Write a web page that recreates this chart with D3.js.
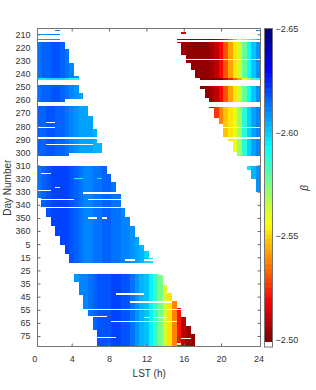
<!DOCTYPE html>
<html><head><meta charset="utf-8">
<script src="https://cdn.jsdelivr.net/npm/d3@7"></script>
<style>
body{margin:0;background:#fff}
svg{display:block}
text{font-family:"Liberation Sans",Arial,Helvetica,sans-serif}
</style>
</head><body>
<svg id="chart" width="316" height="390"></svg>
<script>
// ================= DATA =================
// Days are counted continuously from 1 Jan of the first year (day > 365 = next year).
const lstTicks   = [0, 4, 8, 12, 16, 20, 24];
const dayTicks   = [210,220,230,240,250,260,270,280,290,300,310,320,330,340,350,360,5,15,25,35,45,55,65,75];
const betaTicks  = [-2.65, -2.60, -2.55, -2.50];
const betaRange  = [-2.65, -2.4988];      // jet(64) range; above -> white
const betaBarMax = -2.4964;               // colour-bar end incl. white slot
const lstDomain  = [0.36, 24.24];
const dayDomain  = [205.73, 448.17];
const lstBin     = 0.5;                   // LST bin width (h)

// Observation window edges: [day, LST]
const edgeALeftEnd    = [[206,2.86],[214,2.86],[216,3.2],[243,4.55],[249,4.8],[261,5.2],[265,5.5],[270,5.9],[277,6.2],[284,6.57],[291,6.93],[298,7.2],[302,7.25]];
const edgeARightStart = [[214,15.25],[217,15.6],[222,15.9],[228,16.1],[230,16.35],[237,17.0],[244,17.56],[250,17.9],[258,18.46],[261,18.6],[266,19.0],[273,19.5],[279,20.06],[282,20.3],[288,20.35],[291,20.95],[302,21.67]];
const edgeBLeftStart  = [[311,0],[334,0],[335,0.54],[339,0.8],[349,1.5],[359,2.2],[369,2.9],[379.5,3.64],[384,3.9]];
const edgeBLeftEnd    = [[311,7.5],[315,7.85],[319,8.2],[324,8.64],[336,9.18],[345,9.6],[355,10.43],[364,10.96],[374.5,11.85],[384,12.92]];
const edgeBRightStart = [[311,22.74],[315,23.1],[319,23.4],[324,23.7],[330,24.0]];
const edgeCStart      = [[393,4.2],[400,4.6],[410,5.07],[420,5.5],[427,6.2],[438,6.6],[443,6.93],[448,6.93]];
const edgeCEnd        = [[393,13.46],[401,13.97],[407.5,14.5],[414,15.0],[420,15.6],[426.5,16.1],[433,16.5],[439,17.0],[448,17.56]];

// beta per 0.5 h LST bin
const betaA1  = [-2.613,-2.614,-2.615,-2.616,-2.617,-2.617,-2.616,-2.614,-2.611,-2.609,-2.607];                     // from 0 h
const betaA2  = [-2.614,-2.615,-2.616,-2.617,-2.617,-2.616,-2.615,-2.613,-2.611,-2.608,-2.607,-2.606,-2.606,-2.605,-2.604]; // from 0 h
const betaAR1 = [-2.512,-2.505,-2.502,-2.502,-2.502,-2.502,-2.503,-2.505,-2.510,-2.518,-2.530,-2.542,-2.553,-2.563,-2.578,-2.592,-2.602,-2.609]; // from 15.5 h
const betaAR2 = [-2.515,-2.527,-2.537,-2.547,-2.553,-2.558,-2.570,-2.588,-2.600,-2.606,-2.610];                     // from 19 h
const betaB   = [-2.613,-2.614,-2.616,-2.618,-2.620,-2.621,-2.621,-2.620,-2.618,-2.615,-2.613,-2.612,-2.612,-2.613,
                 -2.614,-2.615,-2.615,-2.614,-2.613,-2.612,-2.610,-2.608,-2.606,-2.603,-2.600,-2.597,-2.594];        // from 0 h
const betaBR  = [-2.585,-2.596,-2.604,-2.609];                                                                      // from 22.5 h
const betaC   = [-2.609,-2.609,-2.610,-2.612,-2.614,-2.616,-2.617,-2.618,-2.619,-2.620,-2.620,-2.619,-2.617,-2.613,
                 -2.609,-2.605,-2.601,-2.594,-2.586,-2.575,-2.562,-2.551,-2.537,-2.522,-2.510,-2.504,-2.502,-2.502]; // from 4 h

const missingDays = [211,212,213,215,245,246,247,248,262,263,264,289,342,420];
// partial gaps: [day, LST from, LST to]
const gaps = [[229,10,24.5],[249,15,24.5],[260,3.3,6],[261,3.3,6],[265,15,24.5],[277,1.1,2.3],[281,0,2.4],[281,15,24.5],
              [294,1.5,6.3],[301,3.9,8],[302,3.9,8],[316,1.0,1.6],[327,2.2,2.6],[329,0,1.8],[331,5.5,9],[336,0,4.2],[336,6.0,9],
              [350,6.0,6.9],[350,7.2,7.9],[382,9.9,10.5],[382,11.9,12.5],[408,8.6,11.9],[414,10.2,14.6],[425,6.0,7.6],
              [426,11.9,12.4],[426,12.9,14.1],[429,8.3,15.3],[441,7.0,8.6],[442,15.9,16.6],[446,15.2,15.6]];
// whole-row offsets in beta
const rowShift = [[210,0.006],[214,0.008],[244,0.02]];
// isolated cells: [day, LST, beta]
const specks = [[207,2.5,-2.612],[207,24,-2.609],[209,16,-2.515],[320,4.5,-2.592],[320,5.0,-2.592],[320,7.0,-2.595]];

// ================= CHART =================
const svg = d3.select('#chart');
const frame = {x0: 37.7, x1: 260.7, y0: 28.7, y1: 346.7};
const x = d3.scaleLinear().domain(lstDomain).range([frame.x0, frame.x1]);
const y = d3.scaleLinear().domain(dayDomain).range([frame.y0, frame.y1]);

function jet(t){
  const f = v => Math.max(0, Math.min(1, v));
  return d3.rgb(255*f(1.5-Math.abs(4*t-3)), 255*f(1.5-Math.abs(4*t-2)), 255*f(1.5-Math.abs(4*t-1))).formatHex();
}
const jetColors = d3.range(64).map(i => jet(i/63));
const color = d3.scaleQuantize().domain(betaRange).range(jetColors);

const segments = [
  {d0:210, d1:264, left:null,           right:edgeALeftEnd, prof:betaA1,  from:0},
  {d0:265, d1:302, left:null,           right:edgeALeftEnd, prof:betaA2,  from:0},
  {d0:214, d1:264, left:edgeARightStart,right:null,         prof:betaAR1, from:15.5},
  {d0:265, d1:302, left:edgeARightStart,right:null,         prof:betaAR2, from:19},
  {d0:311, d1:384, left:edgeBLeftStart, right:edgeBLeftEnd, prof:betaB,   from:0},
  {d0:311, d1:330, left:edgeBRightStart,right:null,         prof:betaBR,  from:22.5},
  {d0:393, d1:448, left:edgeCStart,     right:edgeCEnd,     prof:betaC,   from:4}
];
const edgeScale = (pts, dflt) => pts
  ? d3.scaleLinear().domain(pts.map(p => p[0])).range(pts.map(p => p[1])).clamp(true)
  : () => dflt;

const cells = [];
segments.forEach(s => {
  const L = edgeScale(s.left, 0), R = edgeScale(s.right, 24.25);
  for (let d = s.d0; d <= s.d1; d++) {
    if (missingDays.includes(d)) continue;
    const lo = L(d), hi = R(d);
    const sh = (rowShift.find(r => r[0] === d) || [0, 0])[1];
    for (let k = 0; k <= 48; k++) {
      const c = k * lstBin;
      if (c < lo - 1e-6 || c > hi + 1e-6) continue;
      if (gaps.some(g => g[0] === d && c >= g[1] - 1e-6 && c <= g[2] + 1e-6)) continue;
      const idx = Math.max(0, Math.min(s.prof.length - 1, Math.round((c - s.from) / lstBin)));
      cells.push({d, c, v: Math.min(s.prof[idx] + sh, -2.499)});
    }
  }
});
specks.forEach(p => cells.push({d: p[0], c: p[1], v: p[2]}));

svg.append('defs').append('clipPath').attr('id', 'clip')
  .append('rect').attr('x', frame.x0).attr('y', frame.y0)
  .attr('width', frame.x1 - frame.x0).attr('height', frame.y1 - frame.y0);

svg.append('g').attr('clip-path', 'url(#clip)').attr('shape-rendering', 'crispEdges')
  .selectAll('rect').data(cells).join('rect')
  .attr('x', d => x(d.c - lstBin / 2))
  .attr('width', d => x(d.c + lstBin / 2) - x(d.c - lstBin / 2))
  .attr('y', d => y(d.d - 0.5))
  .attr('height', d => y(d.d + 0.5) - y(d.d - 0.5))
  .attr('fill', d => color(d.v));

// frame
svg.append('rect').attr('x', 37.5).attr('y', 28.5).attr('width', 223).attr('height', 318)
  .attr('fill', 'none').attr('stroke', '#777').attr('stroke-width', 1);

const dayPos = d => d < 200 ? d + 365 : d;
const styleAxis = g => {
  g.select('.domain').remove();
  g.attr('font-family', '"Liberation Sans",Arial,sans-serif').attr('font-size', 9);
  g.selectAll('line').attr('stroke', '#666');
  g.selectAll('text').attr('fill', '#333');
};
// bottom
svg.append('g').attr('transform', 'translate(0,346.5)')
  .call(d3.axisBottom(x).tickValues(lstTicks).tickSize(-3).tickPadding(9.5).tickFormat(d3.format('d')))
  .call(styleAxis)
  .call(g => g.selectAll('.tick').filter(d => d === 0 || d === 24).select('line').remove());
// top
svg.append('g').attr('transform', 'translate(0,28.5)')
  .call(d3.axisTop(x).tickValues(lstTicks.filter(d => d > 0 && d < 24)).tickSize(-3).tickFormat(''))
  .call(styleAxis);
// left
svg.append('g').attr('transform', 'translate(37.5,0)')
  .call(d3.axisLeft(y).tickValues(dayTicks.map(dayPos)).tickSize(-3).tickPadding(7)
        .tickFormat(d => d > 365 ? d - 365 : d))
  .call(styleAxis);
// right
svg.append('g').attr('transform', 'translate(260.5,0)')
  .call(d3.axisRight(y).tickValues(dayTicks.map(dayPos)).tickSize(-3).tickFormat(''))
  .call(styleAxis);

// axis titles
svg.append('text').attr('x', (frame.x0 + frame.x1) / 2).attr('y', 377)
  .attr('text-anchor', 'middle').attr('font-size', 10).attr('fill', '#333').text('LST (h)');
svg.append('text').attr('transform', `translate(10.5,${(frame.y0 + frame.y1) / 2}) rotate(-90)`)
  .attr('text-anchor', 'middle').attr('font-size', 10).attr('fill', '#333').text('Day Number');

// colour bar
const cb = {x: 265, w: 7};
const cbY = d3.scaleLinear().domain([betaRange[0], betaBarMax]).range([29, 347]);
const cbStep = (betaRange[1] - betaRange[0]) / 64;
const cbLevels = jetColors.map((col, i) => ({v0: betaRange[0] + i * cbStep, v1: betaRange[0] + (i + 1) * cbStep, col}));
cbLevels.push({v0: betaRange[1], v1: betaBarMax, col: '#ffffff'});
svg.append('g').attr('shape-rendering', 'crispEdges').selectAll('rect').data(cbLevels).join('rect')
  .attr('x', cb.x).attr('width', cb.w)
  .attr('y', d => cbY(d.v0)).attr('height', d => cbY(d.v1) - cbY(d.v0) + 0.3)
  .attr('fill', d => d.col);
svg.append('rect').attr('x', cb.x - 0.5).attr('y', 28.5).attr('width', cb.w + 1).attr('height', 318.5)
  .attr('fill', 'none').attr('stroke', '#777').attr('stroke-width', 1);
svg.append('g').selectAll('text').data(betaTicks).join('text')
  .attr('x', 275.5).attr('y', d => cbY(d)).attr('dy', '0.35em')
  .attr('font-size', 9).attr('fill', '#333')
  .text(d => d3.format('.2f')(d));
svg.append('text').attr('transform', 'translate(308,188) rotate(-90)')
  .attr('text-anchor', 'middle').attr('font-size', 10).attr('font-style', 'italic').attr('fill', '#333')
  .text('β');
</script>
</body></html>
